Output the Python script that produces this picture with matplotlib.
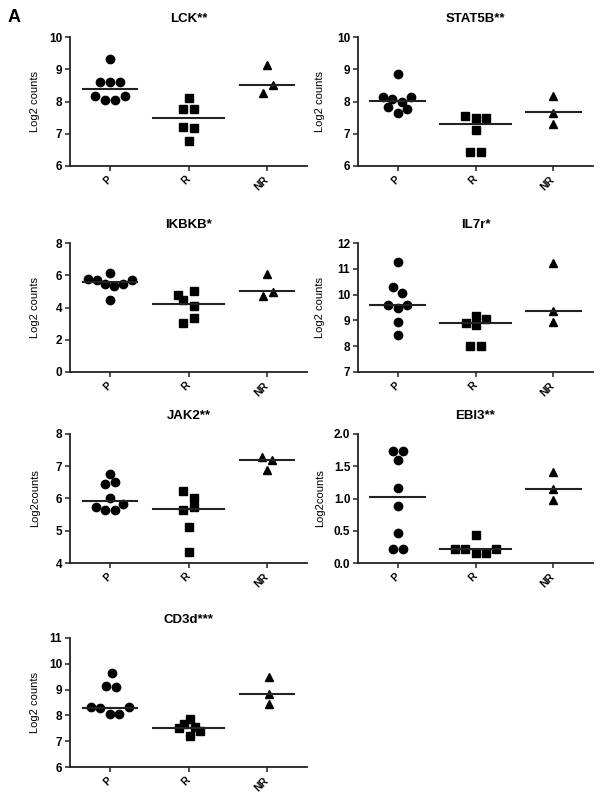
import numpy as np
import matplotlib.pyplot as plt

plt.rcParams['font.family'] = ['Liberation Sans', 'DejaVu Sans']

groups = ['P', 'R', 'NR']

# values (log2 counts), one list per group
lck_p = [9.31, 8.62, 8.62, 8.62, 8.17, 8.05, 8.05, 8.18]
lck_r = [8.10, 7.76, 7.78, 7.20, 7.17, 6.78]
lck_nr = [9.12, 8.51, 8.27]
lck_mid = [8.39, 7.48, 8.52]

stat5b_p = [8.85, 8.13, 8.07, 7.97, 8.13, 7.82, 7.76, 7.63]
stat5b_r = [7.55, 7.48, 7.48, 7.12, 6.44, 6.44]
stat5b_nr = [8.18, 7.63, 7.30]
stat5b_mid = [8.03, 7.29, 7.66]

ikbkb_p = [5.79, 5.68, 5.48, 6.14, 5.35, 5.48, 5.72, 4.44]
ikbkb_r = [4.75, 5.02, 4.44, 4.07, 3.37, 3.04]
ikbkb_nr = [6.10, 4.94, 4.69]
ikbkb_mid = [5.58, 4.24, 5.00]

il7r_p = [11.26, 10.29, 10.05, 9.60, 9.47, 9.60, 8.92, 8.45]
il7r_r = [8.91, 8.84, 9.18, 9.05, 8.01, 8.01]
il7r_nr = [11.22, 9.36, 8.92]
il7r_mid = [9.60, 8.88, 9.38]

jak2_p = [6.77, 6.46, 6.52, 6.00, 5.74, 5.82, 5.63, 5.63]
jak2_r = [6.24, 6.00, 5.65, 5.74, 5.12, 4.34]
jak2_nr = [7.29, 7.20, 6.89]
jak2_mid = [5.91, 5.68, 7.20]

ebi3_p = [1.74, 1.74, 1.60, 1.17, 0.89, 0.46, 0.21, 0.21]
ebi3_r = [0.44, 0.21, 0.21, 0.15, 0.15, 0.21]
ebi3_nr = [1.41, 1.14, 0.98]
ebi3_mid = [1.03, 0.21, 1.15]

cd3d_p = [9.64, 9.14, 9.10, 8.33, 8.30, 8.07, 8.07, 8.33]
cd3d_r = [7.87, 7.68, 7.51, 7.55, 7.38, 7.21]
cd3d_nr = [9.50, 8.82, 8.45]
cd3d_mid = [8.30, 7.52, 8.84]

# horizontal scatter slots (marker widths) so overlapping points sit side by side
lck_off = [[0, -1, 0, 1, -1.5, -0.5, 0.5, 1.5], [0, -0.5, 0.5, -0.5, 0.5, 0], [0, 0.6, -0.4]]
stat5b_off = [[0, -1.5, -0.6, 0.4, 1.3, -1, 0.9, 0], [-1, 0, 1, 0, -0.5, 0.5], [0, 0, 0]]
ikbkb_off = [[-2.2, -1.3, -0.5, 0, 0.4, 1.3, 2.2, 0], [-1, 0.5, -0.5, 0.5, 0.5, -0.5], [0, 0.6, -0.4]]
il7r_off = [[0, -0.5, 0.4, -1, 0, 0.9, 0, 0], [-0.9, 0, 0, 1, -0.5, 0.5], [0, 0, 0]]
jak2_off = [[0, -0.5, 0.5, 0, -1.4, 1.3, -0.5, 0.5], [-0.5, 0.5, -0.5, 0.5, 0, 0], [-0.5, 0.5, 0]]
ebi3_off = [[-0.5, 0.5, 0, 0, 0, 0, -0.5, 0.5], [0, -2, -1, 0, 1, 2], [0, 0, 0]]
cd3d_off = [[0.2, -0.4, 0.6, -1.9, -1, 0, 0.9, 1.9], [0.1, -0.4, -0.9, 0.6, 1.1, 0.1], [0.2, 0.2, 0.2]]

W, H = 605, 797
fig = plt.figure(figsize=(W / 100, H / 100), dpi=100)

col_x = [(70, 237), (358, 235)]
row_y = [166, 372, 563, 767]
ax_h = 129

markers = ['o', 's', '^']
msizes = [6.0, 5.5, 5.5]
slot = 0.13
half = [0.35, 0.45, 0.35]


def panel(col, row, title, data, offs, mids, yticks, ylabel, fmt='%d'):
    x0, w = col_x[col]
    ax = fig.add_axes([x0 / W, 1 - row_y[row] / H, w / W, ax_h / H])
    for i in range(3):
        xs = i + np.array(offs[i]) * slot
        ax.plot(xs, data[i], linestyle='none', marker=markers[i], ms=msizes[i],
                color='black', mec='black')
        ax.plot([i - half[i], i + half[i]], [mids[i], mids[i]], color='#222222', lw=1.5)
    ax.set_xlim(-0.51, 2.51)
    ax.set_ylim(yticks[0], yticks[-1])
    ax.set_xticks(range(3))
    ax.set_xticklabels(groups, rotation=45, ha='right', va='center',
                       rotation_mode='anchor', fontsize=7.5, fontweight='bold')
    ax.set_yticks(yticks)
    ax.set_yticklabels([fmt % t for t in yticks], fontsize=8.5, fontweight='bold')
    ax.tick_params(direction='out', length=3.5, width=1.1, pad=2, color='#222222')
    ax.tick_params(axis='x', pad=5)
    for s in ['top', 'right']:
        ax.spines[s].set_visible(False)
    for s in ['left', 'bottom']:
        ax.spines[s].set_linewidth(1.3)
        ax.spines[s].set_color('#222222')
    ax.set_ylabel(ylabel, fontsize=8)
    ax.yaxis.set_label_coords(-0.125 if col == 0 else -0.14, 0.5)
    ax.set_title(title, fontsize=9.5, fontweight='bold', pad=11)
    return ax


panel(0, 0, 'LCK**', [lck_p, lck_r, lck_nr], lck_off, lck_mid,
      [6, 7, 8, 9, 10], 'Log2 counts')
panel(1, 0, 'STAT5B**', [stat5b_p, stat5b_r, stat5b_nr], stat5b_off, stat5b_mid,
      [6, 7, 8, 9, 10], 'Log2 counts')
panel(0, 1, 'IKBKB*', [ikbkb_p, ikbkb_r, ikbkb_nr], ikbkb_off, ikbkb_mid,
      [0, 2, 4, 6, 8], 'Log2 counts')
panel(1, 1, 'IL7r*', [il7r_p, il7r_r, il7r_nr], il7r_off, il7r_mid,
      [7, 8, 9, 10, 11, 12], 'Log2 counts')
panel(0, 2, 'JAK2**', [jak2_p, jak2_r, jak2_nr], jak2_off, jak2_mid,
      [4, 5, 6, 7, 8], 'Log2counts')
panel(1, 2, 'EBI3**', [ebi3_p, ebi3_r, ebi3_nr], ebi3_off, ebi3_mid,
      [0.0, 0.5, 1.0, 1.5, 2.0], 'Log2counts', fmt='%.1f')
panel(0, 3, 'CD3d***', [cd3d_p, cd3d_r, cd3d_nr], cd3d_off, cd3d_mid,
      [6, 7, 8, 9, 10, 11], 'Log2 counts')

fig.text(8 / W, 1 - 17 / H, 'A', fontsize=13, fontweight='bold', va='center')

fig.savefig('out.png', dpi=100)
